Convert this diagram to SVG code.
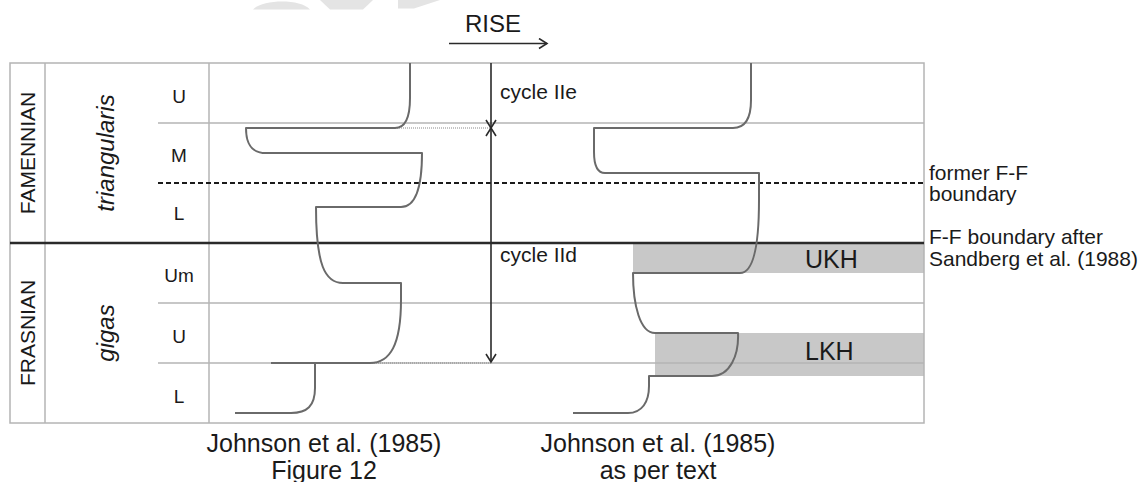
<svg xmlns="http://www.w3.org/2000/svg" width="1142" height="482" viewBox="0 0 1142 482">
<style>
text{font-family:"Liberation Sans",Arial,sans-serif;fill:#1a1a1a}
.grid{stroke:#b4b4b4;stroke-width:1.5;fill:none}
.thick{stroke:#2a2a2a;stroke-width:2.5;fill:none}
.dash{stroke:#1a1a1a;stroke-width:2;stroke-dasharray:5,3;fill:none}
.dot{stroke:#8a8a8a;stroke-width:1.2;stroke-dasharray:1,1;fill:none}
.curve{stroke:#6a6a6a;stroke-width:2;fill:none;stroke-linejoin:round}
.arr{stroke:#2a2a2a;stroke-width:1.6;fill:none}
.band{fill:#c8c8c8}
.stage{font-size:19px;text-anchor:middle}
.rot{font-size:21px;text-anchor:middle}
.zone{font-size:24px;font-style:italic;text-anchor:middle}
.lbl{font-size:21px}
.cap{font-size:25px;text-anchor:middle}
</style>
<defs>
<marker id="chev" viewBox="0 0 12 12" refX="10" refY="6" markerWidth="12" markerHeight="12" markerUnits="userSpaceOnUse" orient="auto-start-reverse">
<path d="M2,1 L10,6 L2,11" fill="none" stroke="#2a2a2a" stroke-width="1.6"/>
</marker>
</defs>
<g id="watermark" fill="#e4e4e4">
<path d="M253,9.5 C258,4 270,1.5 282,1.5 C294,1.5 305,4 310,9.5 Z"/>
<path d="M320,0 L373,0 L363,9.5 L330,9.5 Z"/>
<path d="M398,0 L440,0 L414,8.5 L398,8.5 Z"/>
</g>
<g id="bands">
<rect id="UKH-band" class="band" x="633" y="244" width="291" height="29"/>
<rect id="LKH-band" class="band" x="655" y="333" width="269" height="43"/>
</g>
<g id="grid">
<rect class="grid" x="10" y="63" width="914" height="360"/>
<line class="grid" x1="45" y1="63" x2="45" y2="423"/>
<line class="grid" x1="209" y1="63" x2="209" y2="423" stroke="#a0a0a0"/>
<line class="grid" x1="158" y1="123" x2="924" y2="123"/>
<line class="grid" x1="158" y1="303" x2="924" y2="303"/>
<line class="grid" x1="158" y1="363" x2="924" y2="363"/>
<line class="dash" x1="158" y1="183" x2="924" y2="183"/>
<line class="thick" x1="10" y1="243" x2="924" y2="243"/>
</g>
<g id="connectors">
<line class="dot" x1="395" y1="128" x2="491" y2="128"/>
<line class="dot" x1="370" y1="363" x2="491" y2="363"/>
<line id="rise-arrow" class="arr" x1="449" y1="43.5" x2="547" y2="43.5" marker-end="url(#chev)"/>
<line id="cycle-IIe-arrow" class="arr" x1="491" y1="63" x2="491" y2="128" marker-end="url(#chev)"/>
<line id="cycle-IId-arrow" class="arr" x1="491" y1="128" x2="491" y2="362" marker-start="url(#chev)" marker-end="url(#chev)"/>
</g>
<g id="curve-fig12">
<path class="curve" d="M410,63 V98 C410,118 405,128 395,128 H246 C246,145 252,153 266,153 H422 C422,185 416,207 401,207 H316 C316,265 325,283 343,283 H401 V300 C401,345 390,363 370,363 H271"/>
<path class="curve" d="M315,363 V388 C315,406 307,413 291,413 H235"/>
</g>
<g id="curve-text">
<path class="curve" d="M751,63 V100 C751,118 745,128 733,128 H594 V152 C594,166 598,173 605,173 H759 V200 C759,245 754,273 740,273 H633 C633,305 640,333 655,333 H738 C739,355 730,376 712,376 H649 V386 C649,402 642,413 628,413 H573"/>
</g>
<g id="stage-labels">
<text class="rot" transform="translate(35,153) rotate(-90)">FAMENNIAN</text>
<text class="rot" transform="translate(35,333) rotate(-90)">FRASNIAN</text>
<text class="zone" transform="translate(114,153) rotate(-90)">triangularis</text>
<text class="zone" transform="translate(114,333) rotate(-90)">gigas</text>
<text class="stage" x="179" y="103">U</text>
<text class="stage" x="179" y="162">M</text>
<text class="stage" x="179" y="220">L</text>
<text class="stage" x="179" y="282">Um</text>
<text class="stage" x="179" y="343">U</text>
<text class="stage" x="179" y="403">L</text>
</g>
<g id="labels">
<text x="465" y="32" style="font-size:24px">RISE</text>
<text class="lbl" x="500" y="99">cycle IIe</text>
<text class="lbl" x="500" y="262">cycle IId</text>
<text x="805" y="268" style="font-size:25px">UKH</text>
<text x="805" y="360" style="font-size:25px">LKH</text>
<text class="lbl" x="929" y="180">former F-F</text>
<text class="lbl" x="929" y="201">boundary</text>
<text class="lbl" x="929" y="244">F-F boundary after</text>
<text class="lbl" x="929" y="266">Sandberg et al. (1988)</text>
<text class="cap" x="324" y="452">Johnson et al. (1985)</text>
<text class="cap" x="324" y="479">Figure 12</text>
<text class="cap" x="658" y="452">Johnson et al. (1985)</text>
<text class="cap" x="658" y="479">as per text</text>
</g>
</svg>
